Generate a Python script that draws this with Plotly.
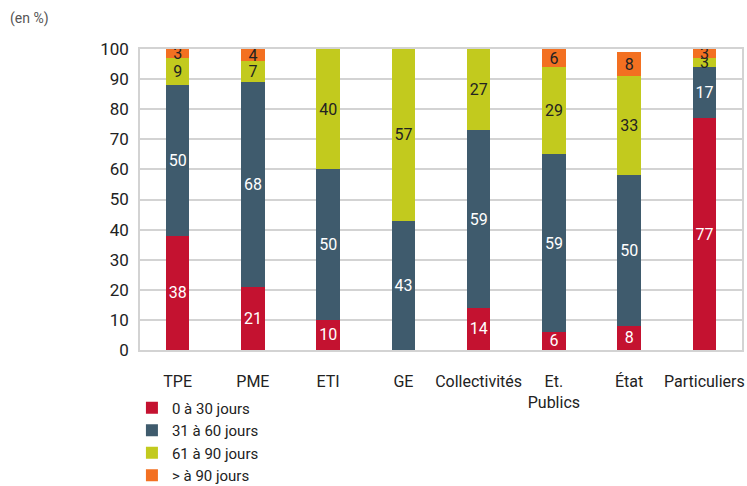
import plotly.graph_objects as go

categories = ["TPE", "PME", "ETI", "GE", "Collectivités", "Et.<br>Publics", "État", "Particuliers"]

days_0_30 = [38, 21, 10, 0, 14, 6, 8, 77]
days_31_60 = [50, 68, 50, 43, 59, 59, 50, 17]
days_61_90 = [9, 7, 40, 57, 27, 29, 33, 3]
days_over_90 = [3, 4, 0, 0, 0, 6, 8, 3]

series = [
    ("0 à 30 jours", days_0_30, "#C41230", "white"),
    ("31 à 60 jours", days_31_60, "#3F5B6D", "white"),
    ("61 à 90 jours", days_61_90, "#C2CA1E", "#222222"),
    ("> à 90 jours", days_over_90, "#F37021", "#222222"),
]

FONT = "Roboto, Liberation Sans, sans-serif"

fig = go.Figure()
for name, vals, color, txtcolor in series:
    fig.add_trace(go.Bar(
        x=categories,
        y=vals,
        name=name,
        marker=dict(color=color, line=dict(width=0)),
        text=[str(v) if v else "" for v in vals],
        textposition="inside",
        insidetextanchor="middle",
        textangle=0,
        constraintext="none",
        textfont=dict(color=txtcolor, size=16, family=FONT),
        cliponaxis=False,
        width=0.31,
    ))

fig.update_layout(
    barmode="stack",
    width=747,
    height=486,
    margin=dict(l=140, r=5, t=49, b=136, autoexpand=False),
    plot_bgcolor="white",
    paper_bgcolor="white",
    font=dict(family=FONT, size=16, color="#222222"),
    uniformtext=dict(minsize=16, mode="show"),
    showlegend=True,
    legend=dict(
        orientation="v",
        traceorder="normal",
        x=-0.0134,
        xanchor="left",
        y=-0.138,
        yanchor="top",
        font=dict(size=15, family=FONT, color="#222222"),
        itemclick=False,
        tracegroupgap=0,
        bgcolor="rgba(0,0,0,0)",
    ),
)
fig.add_annotation(
    text="(en %)", xref="paper", yref="paper",
    x=-132 / 602, y=1 + 31 / 301, xanchor="left", yanchor="middle",
    showarrow=False, font=dict(size=14, color="#555555", family=FONT),
)

fig.update_yaxes(
    range=[0, 100],
    dtick=10,
    showgrid=True,
    gridcolor="#D3D3D3",
    gridwidth=1.5,
    showline=True,
    linecolor="#D3D3D3",
    linewidth=1.5,
    mirror=True,
    zeroline=False,
    ticks="",
    ticklabelstandoff=6,
    tickfont=dict(size=17, color="#222222"),
)
fig.update_xaxes(
    showgrid=False,
    showline=True,
    linecolor="#D3D3D3",
    linewidth=1.5,
    mirror=True,
    ticks="",
    tickangle=0,
    ticklabelstandoff=16,
    tickfont=dict(size=16, color="#222222"),
)

fig.write_html("out.html")
